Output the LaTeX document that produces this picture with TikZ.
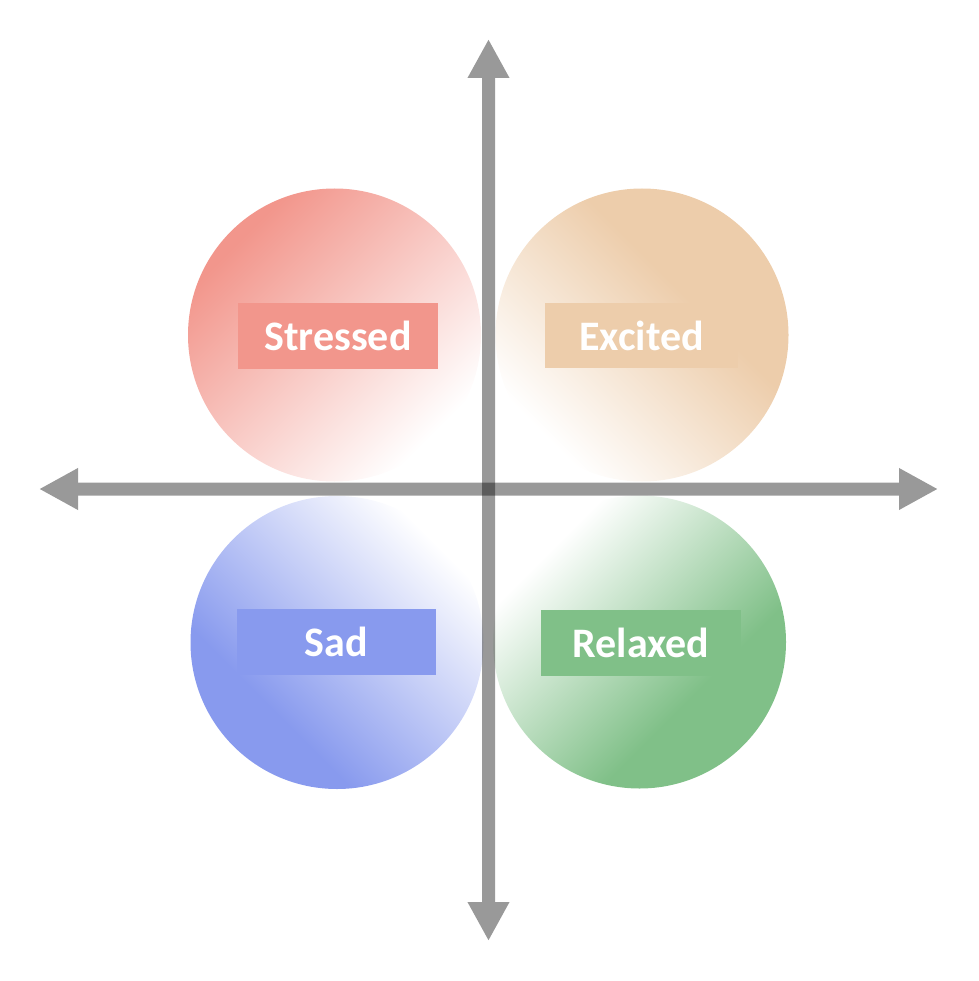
\documentclass[tikz,border=0pt]{standalone}
\usepackage{fontspec}
\setmainfont{Carlito}
\usetikzlibrary{arrows.meta}
\definecolor{cStress}{HTML}{F2968C}
\definecolor{cExcite}{HTML}{EDCDAB}
\definecolor{cSad}{HTML}{889AEE}
\definecolor{cRelax}{HTML}{80C088}
\pgfdeclareverticalshading{shStress}{100bp}{color(0bp)=(white); color(26bp)=(white); color(73bp)=(cStress); color(100bp)=(cStress)}
\pgfdeclareverticalshading{shExcite}{100bp}{color(0bp)=(white); color(26bp)=(white); color(60bp)=(cExcite); color(100bp)=(cExcite)}
\pgfdeclareverticalshading{shSad}{100bp}{color(0bp)=(white); color(26bp)=(white); color(66bp)=(cSad); color(100bp)=(cSad)}
\pgfdeclareverticalshading{shRelax}{100bp}{color(0bp)=(white); color(28bp)=(white); color(63bp)=(cRelax); color(100bp)=(cRelax)}
\begin{document}
\begin{tikzpicture}[x=1pt,y=-1pt,
  blob/.style={circle, inner sep=0pt, minimum size=293pt, shade},
  tag/.style={rectangle, minimum width=200pt, minimum height=66pt, inner sep=0pt,
    text=white, font=\fontsize{42}{50}\selectfont\bfseries},
  axisline/.style={black, line width=13pt,
    {Triangle[width=39pt,length=39pt]}-{Triangle[width=39pt,length=39pt]}}]
\useasboundingbox (0,0) rectangle (978,981);
% circles
\node[blob, shading=shStress, shading angle=45]  (cS) at (334.5,335) {};
\node[blob, shading=shExcite, shading angle=-45] (cE) at (642,335) {};
\node[blob, shading=shSad, shading angle=135]    (cD) at (337,642.5) {};
\node[blob, shading=shRelax, shading angle=-135] (cR) at (639.5,642) {};
% axes
\coordinate (L) at (39,489);
\coordinate (R) at (938,489);
\coordinate (T) at (488.5,39);
\coordinate (B) at (488.5,941);
\begin{scope}[transparency group, opacity=0.4]
  \draw[axisline] (L) -- (R);
\end{scope}
\begin{scope}[transparency group, opacity=0.4]
  \draw[axisline] (T) -- (B);
\end{scope}
% labels
\node[tag, fill=cStress] (tS) at (338,336) {Stressed};
\node[tag, fill=cExcite, minimum width=193pt, minimum height=65pt] (tE) at (641.5,335.5) {Excited};
\node[tag, fill=cSad, minimum width=199pt] (tD) at (336.5,642) {Sad};
\node[tag, fill=cRelax] (tR) at (641,643) {Relaxed};
\end{tikzpicture}
\end{document}
